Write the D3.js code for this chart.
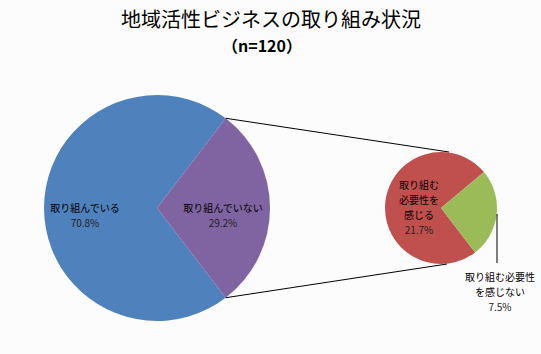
<!DOCTYPE html>
<html>
<head>
<meta charset="utf-8">
<script src="https://cdn.jsdelivr.net/npm/d3@7"></script>
<style>
  html, body { margin: 0; padding: 0; background: #fcfcfc; }
  svg { display: block; font-family: "Noto Sans CJK JP", sans-serif; }
</style>
</head>
<body>
<div id="chart"></div>
<script>
// 主円グラフ
const mainLabels = ["取り組んでいる", "取り組んでいない"];
const mainValues = [70.8, 29.2];
const mainColors = ["#4f81bd", "#8064a2"];

// 補助円グラフ（「取り組んでいない」の内訳）
const subLabels = [["取り組む", "必要性を", "感じる"], ["取り組む必要性", "を感じない"]];
const subValues = [21.7, 7.5];
const subColors = ["#c0504d", "#9bbb59"];

const title = ["地域活性ビジネスの取り組み状況", "（n=120）"];

const W = 541, H = 354;
const svg = d3.select("#chart").append("svg").attr("width", W).attr("height", H);

svg.append("text").attr("x", 271).attr("y", 27).attr("text-anchor", "middle")
   .attr("font-size", 20).attr("fill", "#000").text(title[0]);
svg.append("text").attr("x", 262).attr("y", 52).attr("text-anchor", "middle")
   .attr("font-size", 16).attr("font-weight", "bold").attr("fill", "#000").text(title[1]);

// 主円
const cx1 = 157, cy1 = 208, r1 = 113;
const sideSpan = mainValues[1] / 100 * 2 * Math.PI;
const start1 = Math.PI / 2 + sideSpan / 2;  // 「取り組んでいない」を右側に
const pie1 = d3.pie().sort(null).startAngle(start1).endAngle(start1 + 2 * Math.PI);
const arcs1 = pie1(mainValues);
const arc1 = d3.arc().innerRadius(0).outerRadius(r1);

const g1 = svg.append("g").attr("transform", `translate(${cx1},${cy1})`);
g1.selectAll("path").data(arcs1).enter().append("path")
  .attr("d", arc1).attr("fill", (d, i) => mainColors[i]);

// 補助円
const cx2 = 441, cy2 = 208, r2 = 56;
const start2 = 50 / 180 * Math.PI + subValues[1] / (subValues[0] + subValues[1]) * 2 * Math.PI;
const pie2 = d3.pie().sort(null).startAngle(start2).endAngle(start2 + 2 * Math.PI);
const arcs2 = pie2(subValues);
const arc2 = d3.arc().innerRadius(0).outerRadius(r2);

const g2 = svg.append("g").attr("transform", `translate(${cx2},${cy2})`);
g2.selectAll("path").data(arcs2).enter().append("path")
  .attr("d", arc2).attr("fill", (d, i) => subColors[i]);

// 接続線
const pt = (cx, cy, r, a) => [cx + r * Math.sin(a), cy - r * Math.cos(a)];
const a0 = Math.PI / 2 - sideSpan / 2, a1 = Math.PI / 2 + sideSpan / 2;
const p1 = pt(cx1, cy1, r1, a0), p2 = pt(cx1, cy1, r1, a1);
svg.append("line").attr("x1", p1[0]).attr("y1", p1[1]).attr("x2", cx2 + 8).attr("y2", cy2 - r2)
   .attr("stroke", "#000").attr("stroke-width", 1);
svg.append("line").attr("x1", p2[0]).attr("y1", p2[1]).attr("x2", cx2 + 6).attr("y2", cy2 + r2)
   .attr("stroke", "#000").attr("stroke-width", 1);

// ラベル
const fs = 10;
function label(x, y, lines, pct) {
  const t = svg.append("text").attr("text-anchor", "middle").attr("font-size", fs);
  lines.forEach((s, i) => t.append("tspan").attr("x", x).attr("y", y + i * 15).attr("fill", "#000").text(s));
  t.append("tspan").attr("x", x).attr("y", y + lines.length * 15).attr("fill", "#222").text(pct);
}
label(85, 212, [mainLabels[0]], mainValues[0].toFixed(1) + "%");
label(223, 212, [mainLabels[1]], mainValues[1].toFixed(1) + "%");
label(419, 189, subLabels[0], subValues[0].toFixed(1) + "%");

// 「感じない」の引出線とラベル
svg.append("line").attr("x1", 497).attr("y1", 214).attr("x2", 497).attr("y2", 263)
   .attr("stroke", "#000").attr("stroke-width", 1);
label(500, 281, subLabels[1], subValues[1].toFixed(1) + "%");
</script>
</body>
</html>
